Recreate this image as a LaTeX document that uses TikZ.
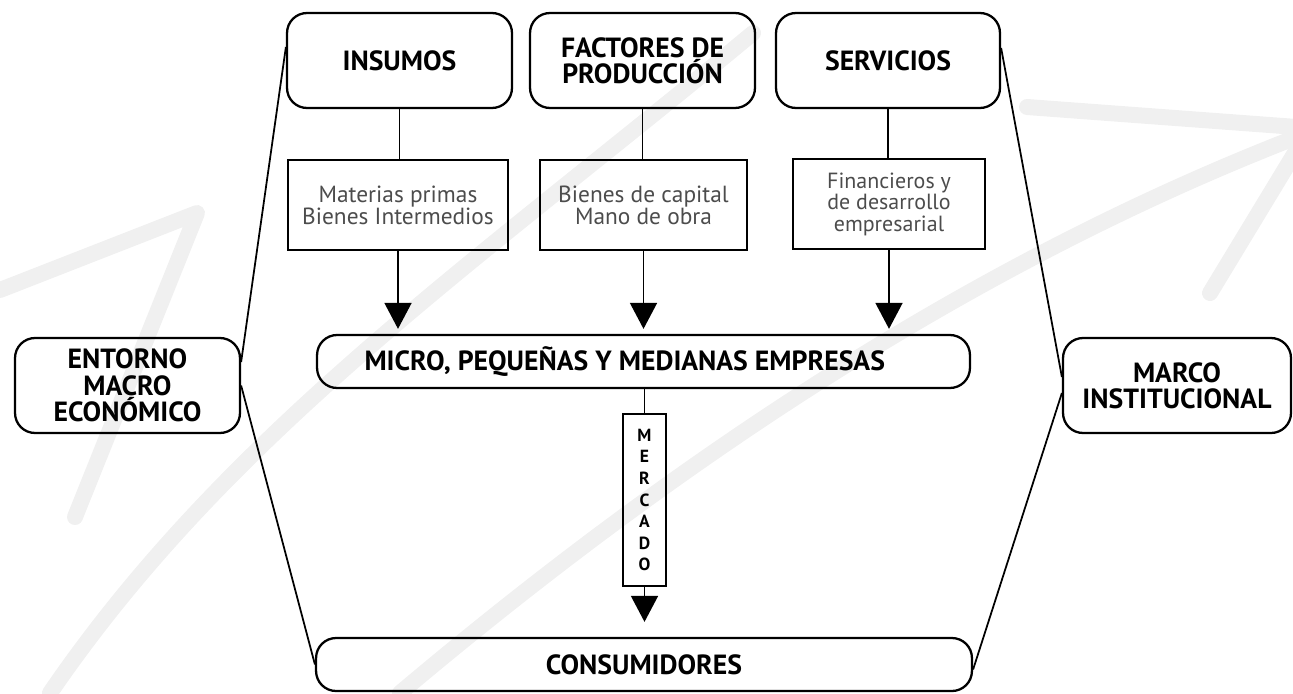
\documentclass[tikz,border=0pt]{standalone}
\usepackage{fontspec}
\setmainfont{PT Sans}
\usepackage{tikz}
\usetikzlibrary{arrows.meta,calc}

\begin{document}
\begin{tikzpicture}[x=0.02cm, y=-0.02cm,
    caja/.style={draw, line width=1.3pt, rounded corners=0.4cm, align=center, inner sep=0pt,
        font=\bfseries\fontsize{15.8}{15}\selectfont},
    cajita/.style={draw, line width=1.3pt, align=center, inner sep=0pt, minimum height=1.8cm,
        text=black!70, font=\fontsize{13.3}{12.6}\selectfont},
    linea/.style={line width=1pt},
    flecha/.style={line width=1pt, -{Triangle[width=0.54cm, length=0.52cm]}},
    marca/.style={black!6, line width=0.32cm, line cap=round, line join=round}]

        \useasboundingbox (0,0) rectangle (1293,693);

        % faint watermark behind everything
        \draw[marca] (0,290) -- (197,213) -- (75,517);
        \draw[marca] (50,693) .. controls (230,430) and (480,260) .. (753,33);
        \draw[marca] (400,693) .. controls (700,440) and (1000,250) .. (1310,132);
        \draw[marca] (1027,107) -- (1310,128) -- (1210,293);

        % top row
        \node[caja, minimum width=4.5cm, minimum height=1.9cm] (insumos) at (399.5,60.5) {INSUMOS};
        \node[caja, minimum width=4.5cm, minimum height=1.9cm] (factores) at (642.5,60.5) {FACTORES DE\\PRODUCCIÓN};
        \node[caja, minimum width=4.48cm, minimum height=1.9cm] (servicios) at (888,60.5) {SERVICIOS};

        % detail boxes
        \node[cajita, minimum width=4.4cm] (materias) at (398,205) {Materias primas\\Bienes Intermedios};
        \node[cajita, minimum width=4.14cm] (bienes) at (643.5,205) {Bienes de capital\\Mano de obra};
        \node[cajita, minimum width=3.84cm, font=\fontsize{12.5}{12.2}\selectfont] (financieros) at (889,204) {Financieros y\\de desarrollo\\empresarial};

        % center
        \node[caja, minimum width=13.06cm, minimum height=1.06cm] (micro) at (643.5,361.5) {MICRO, PEQUEÑAS Y MEDIANAS EMPRESAS\hspace*{0.75cm}};
        \node[caja, sharp corners, minimum width=0.86cm, minimum height=3.44cm,
              font=\bfseries\fontsize{10}{12.3}\selectfont] (mercado) at (644.5,500) {M\\E\\R\\C\\A\\D\\O};
        \node[caja, minimum width=13.12cm, minimum height=1.06cm] (consumidores) at (644,664.5) {CONSUMIDORES};

        % sides
        \node[caja, minimum width=4.5cm, minimum height=1.9cm] (entorno) at (127.5,385.5) {ENTORNO\\MACRO\\ECONÓMICO};
        \node[caja, minimum width=4.56cm, minimum height=1.9cm] (marco) at (1177,385.5) {MARCO\\INSTITUCIONAL};

        % flows down
        \foreach \a/\b in {insumos/materias, factores/bienes, servicios/financieros} {
            \draw[linea] (\a.south) -- (\a.south |- \b.north);
            \draw[flecha, shorten >=0.1cm] (\b.south) -- (\b.south |- micro.north);
        }
        \draw[linea] (micro.south -| mercado.north) -- (mercado.north);
        \draw[flecha, shorten >=0.3cm] (mercado.south) -- (mercado.south |- consumidores.north);

        % outer frame
        \draw[linea] ([yshift=0.27cm]insumos.west) -- ([yshift=0.47cm]entorno.east);
        \draw[linea] (entorno.east) -- (consumidores.west);
        \draw[linea] ([yshift=0.25cm]servicios.east) -- ([yshift=0.17cm]marco.west);
        \draw[linea] ([yshift=-0.15cm]marco.west) -- ([yshift=-0.1cm]consumidores.east);

\end{tikzpicture}
\end{document}
